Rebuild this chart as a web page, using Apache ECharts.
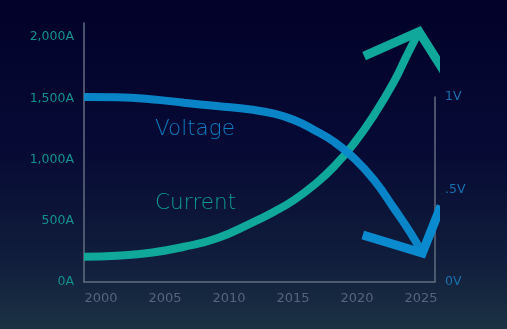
<!DOCTYPE html>
<html>
<head>
<meta charset="utf-8">
<script src="https://cdn.jsdelivr.net/npm/echarts@6/dist/echarts.min.js"></script>
<style>
html,body{margin:0;padding:0;background:#05062c;}
#chart{width:507px;height:329px;}
</style>
</head>
<body>
<div id="chart"></div>
<script>
// ---- data ----
const yearTicks = [2000, 2005, 2010, 2015, 2020, 2025];
const currentTickValues = [0, 500, 1000, 1500, 2000];
const currentTickLabels = ['0A', '500A', '1,000A', '1,500A', '2,000A'];
const voltageTickValues = [0, 0.5, 1];
const voltageTickLabels = ['0V', '.5V', '1V'];

// Current (A) curve
const currentYears  = [1998.67, 2001.25, 2003.88, 2006.48, 2009.06, 2011.7, 2013.52, 2015.08, 2016.64, 2018.2, 2019.77, 2021.33, 2022.89, 2023.91, 2024.84];
const currentValues = [207, 215, 239, 288, 357, 479, 574, 670, 792, 942, 1133, 1364, 1636, 1854, 2044];
// Voltage (V) curve
const voltageYears  = [1998.67, 2001.25, 2003.88, 2006.48, 2009.06, 2011.7, 2013.52, 2015.08, 2016.64, 2018.2, 2019.77, 2021.33, 2022.89, 2024.2, 2025.1];
const voltageValues = [1.0, 0.998, 0.988, 0.969, 0.951, 0.932, 0.91, 0.876, 0.822, 0.758, 0.669, 0.551, 0.398, 0.263, 0.157];

// Arrow heads (open chevrons): [left arm end, tip, right arm end]
const currentArrowYears  = [2020.55, 2024.84, 2026.88];
const currentArrowValues = [1845, 2044, 1707];
const voltageArrowYears  = [2020.45, 2025.1, 2026.56];
const voltageArrowValues = [0.254, 0.157, 0.411];

const seriesNames = ['Voltage', 'Current'];

// ---- build ----
const zip = (a, b) => a.map((v, i) => [v, b[i]]);
const BLUE = '#0a8bd0';
const TEAL = '#0fa89b';
const AXIS = '#626c7f';
const xMin = 1998.67, xMax = 2026.09;

const chart = echarts.init(document.getElementById('chart'), null, {renderer: 'canvas'});
const xAxisCommon = {
  type: 'value', min: xMin, max: xMax,
  splitLine: {show: false},
  axisTick: {show: false}
};
chart.setOption({
  animation: false,
  backgroundColor: {
    type: 'linear', x: 0, y: 0, x2: 0, y2: 1,
    colorStops: [
      {offset: 0, color: '#02022a'},
      {offset: 0.45, color: '#060a34'},
      {offset: 0.8, color: '#111e3c'},
      {offset: 1, color: '#1b3244'}
    ]
  },
  grid: [
    {left: 84, right: 72, top: 23, bottom: 47},
    {left: 84, right: 72, top: 97, bottom: 47}
  ],
  xAxis: [
    Object.assign({}, xAxisCommon, {
      gridIndex: 0,
      axisLine: {show: true, lineStyle: {color: AXIS, width: 1.5}},
      axisLabel: {
        customValues: yearTicks,
        color: '#56647c', fontFamily: 'DejaVu Sans', fontSize: 13, margin: 10,
        formatter: v => String(Math.round(v))
      }
    }),
    Object.assign({}, xAxisCommon, {
      gridIndex: 1, show: false
    })
  ],
  yAxis: [
    {
      type: 'value', gridIndex: 0, min: 0, max: 2115, position: 'left',
      splitLine: {show: false},
      axisTick: {show: false},
      axisLine: {show: true, lineStyle: {color: AXIS, width: 1.5}},
      axisLabel: {
        customValues: currentTickValues,
        color: '#13918f', fontFamily: 'DejaVu Sans', fontSize: 12.5, margin: 10,
        formatter: v => currentTickLabels[currentTickValues.indexOf(v)] || ''
      }
    },
    {
      type: 'value', gridIndex: 1, min: 0, max: 1, position: 'right',
      splitLine: {show: false},
      axisTick: {show: false},
      axisLine: {show: true, lineStyle: {color: AXIS, width: 1.5}},
      axisLabel: {
        customValues: voltageTickValues,
        color: '#1a70b0', fontFamily: 'DejaVu Sans', fontSize: 12.5, margin: 10,
        formatter: v => voltageTickLabels[voltageTickValues.indexOf(v)] || ''
      }
    }
  ],
  series: [
    {
      name: seriesNames[1], type: 'line', xAxisIndex: 0, yAxisIndex: 0,
      data: zip(currentYears, currentValues), smooth: 0.5, symbol: 'none', clip: false,
      lineStyle: {color: TEAL, width: 8, cap: 'butt'}, z: 2
    },
    {
      name: seriesNames[1] + ' arrow', type: 'line', xAxisIndex: 0, yAxisIndex: 0,
      data: zip(currentArrowYears, currentArrowValues), smooth: false, symbol: 'none', clip: false,
      lineStyle: {color: TEAL, width: 9, cap: 'butt', join: 'miter'}, z: 2
    },
    {
      name: seriesNames[0], type: 'line', xAxisIndex: 1, yAxisIndex: 1,
      data: zip(voltageYears, voltageValues), smooth: 0.5, symbol: 'none', clip: false,
      lineStyle: {color: BLUE, width: 8, cap: 'butt', opacity: 0.95}, z: 3
    },
    {
      name: seriesNames[0] + ' arrow', type: 'line', xAxisIndex: 1, yAxisIndex: 1,
      data: zip(voltageArrowYears, voltageArrowValues), smooth: false, symbol: 'none', clip: false,
      lineStyle: {color: BLUE, width: 9, cap: 'butt', join: 'miter'}, z: 3
    }
  ],
  graphic: [
    {type: 'text', left: 155, top: 118, style: {text: seriesNames[0], fill: '#0b7fc3', font: '200 21.5px "DejaVu Sans Light", "DejaVu Sans"'}},
    {type: 'text', left: 155, top: 192, style: {text: seriesNames[1], fill: '#0e9b93', font: '200 21.5px "DejaVu Sans Light", "DejaVu Sans"'}}
  ]
});
</script>
</body>
</html>
